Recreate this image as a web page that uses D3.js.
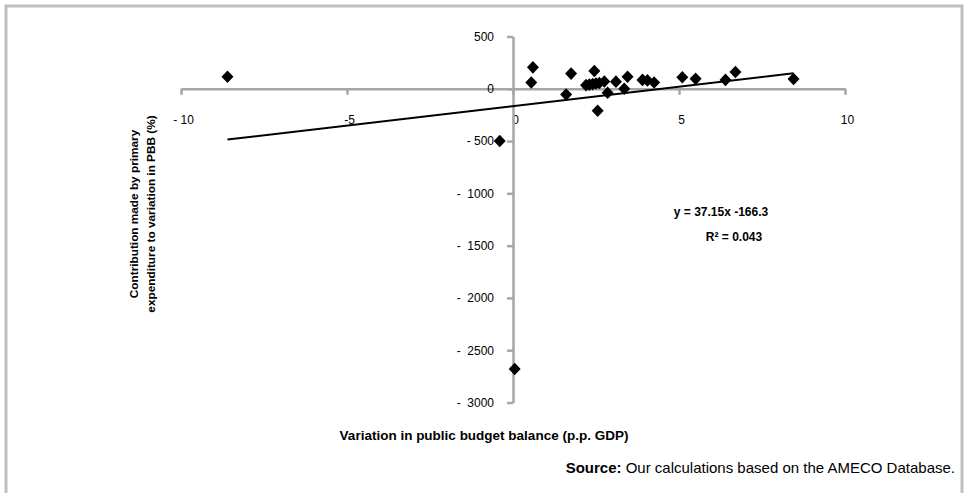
<!DOCTYPE html>
<html>
<head>
<meta charset="utf-8">
<script src="https://cdn.jsdelivr.net/npm/d3@7/dist/d3.min.js"></script>
<style>
  html, body { margin: 0; padding: 0; background: #fff; }
  svg { display: block; font-family: "Liberation Sans", Arial, sans-serif; }
</style>
</head>
<body>
<svg id="chart" width="966" height="493"></svg>
<script>
// Variation in public budget balance (p.p. GDP)
const balanceVariation = [-8.6, -0.4, 0.05, 0.6, 0.55, 1.6, 1.75, 2.2, 2.3, 2.4, 2.45, 2.5, 2.55, 2.6, 2.75, 2.85, 3.1, 3.35, 3.45, 3.9, 4.05, 4.25, 5.1, 5.5, 6.4, 6.7, 8.45];
// Contribution made by primary expenditure to variation in PBB (%)
const expenditureContribution = [115, -500, -2680, 205, 60, -55, 145, 35, 40, 45, 170, 50, -210, 55, 70, -38, 68, 0, 115, 85, 80, 60, 110, 95, 85, 160, 93];

// Linear trend coefficients
const trendSlope = 37.15;
const trendIntercept = -166.3;
const trendR2 = "0.043";

const xTickValues = [-10, -5, 0, 5, 10];
const xTickLabels = ["- 10", "-5", "0", "5", "10"];
const yTickValues = [500, 0, -500, -1000, -1500, -2000, -2500, -3000];
const yTickLabels = ["500", "0", "- 500", "-  1000", "-  1500", "-  2000", "-  2500", "-  3000"];

const svg = d3.select("#chart");
const axisColor = "#a6a6a6";

// outer frame
svg.append("path")
  .attr("d", "M6,493 V6 H962 V493")
  .attr("fill", "none")
  .attr("stroke", "#bfbfbf")
  .attr("stroke-width", 3);

const x = d3.scaleLinear().domain([-10, 10]).range([181, 845]);
const y = d3.scaleLinear().domain([-3000, 500]).range([402.5, 36.5]);

// x axis along y = 0
const xAxis = svg.append("g")
  .attr("transform", `translate(0,${y(0)})`)
  .call(d3.axisBottom(x)
    .tickValues(xTickValues)
    .tickFormat((d, i) => xTickLabels[i])
    .tickSizeInner(6).tickSizeOuter(0).tickPadding(21));
xAxis.select(".domain").attr("stroke", axisColor).attr("stroke-width", 2.5);
xAxis.selectAll(".tick line").attr("stroke", axisColor).attr("stroke-width", 2.5);
xAxis.selectAll(".tick text")
  .attr("fill", "#000").attr("font-size", 12)
  .attr("dx", 2)
  .style("white-space", "pre");

// y axis along x = 0
const yAxis = svg.append("g")
  .attr("transform", `translate(${x(0)},0)`)
  .call(d3.axisLeft(y)
    .tickValues(yTickValues)
    .tickFormat((d, i) => yTickLabels[i])
    .tickSizeInner(6).tickSizeOuter(0).tickPadding(13));
yAxis.select(".domain").attr("stroke", axisColor).attr("stroke-width", 2.5);
yAxis.selectAll(".tick line").attr("stroke", axisColor).attr("stroke-width", 2.5);
yAxis.selectAll(".tick text")
  .attr("fill", "#000").attr("font-size", 12)
  .style("white-space", "pre");

// trend line over the data range
const xExtent = d3.extent(balanceVariation);
svg.append("line")
  .attr("x1", x(xExtent[0])).attr("y1", y(trendSlope * xExtent[0] + trendIntercept))
  .attr("x2", x(xExtent[1])).attr("y2", y(trendSlope * xExtent[1] + trendIntercept))
  .attr("stroke", "#000").attr("stroke-width", 2);

// data markers
const points = balanceVariation.map((v, i) => [v, expenditureContribution[i]]);
svg.append("g").selectAll("path")
  .data(points)
  .join("path")
  .attr("transform", d => `translate(${x(d[0])},${y(d[1])})`)
  .attr("d", "M0,-6.3 L6,0 L0,6.3 L-6,0 Z")
  .attr("fill", "#000");

// equation label
svg.append("text")
  .attr("x", 721).attr("y", 216)
  .attr("text-anchor", "middle")
  .attr("font-size", 12).attr("font-weight", "bold")
  .text(`y = ${trendSlope}x -${Math.abs(trendIntercept)}`);
svg.append("text")
  .attr("x", 734).attr("y", 241)
  .attr("text-anchor", "middle")
  .attr("font-size", 12).attr("font-weight", "bold")
  .text(`R² = ${trendR2}`);

// axis titles
svg.append("text")
  .attr("x", 484).attr("y", 440)
  .attr("text-anchor", "middle")
  .attr("font-size", 13.5).attr("font-weight", "bold")
  .text("Variation in public budget balance (p.p. GDP)");

const yTitle = svg.append("text")
  .attr("transform", "translate(138,214) rotate(-90)")
  .attr("text-anchor", "middle")
  .attr("font-size", 11.8).attr("font-weight", "bold");
yTitle.append("tspan").attr("x", 0).attr("dy", 0).text("Contribution made by primary");
yTitle.append("tspan").attr("x", 0).attr("dy", "1.42em").text("expenditure to variation in PBB (%)");

// source note
const source = svg.append("text")
  .attr("x", 955).attr("y", 473)
  .attr("text-anchor", "end")
  .attr("font-size", 15);
source.append("tspan").attr("font-weight", "bold").text("Source:");
source.append("tspan").text(" Our calculations based on the AMECO Database.");
</script>
</body>
</html>
